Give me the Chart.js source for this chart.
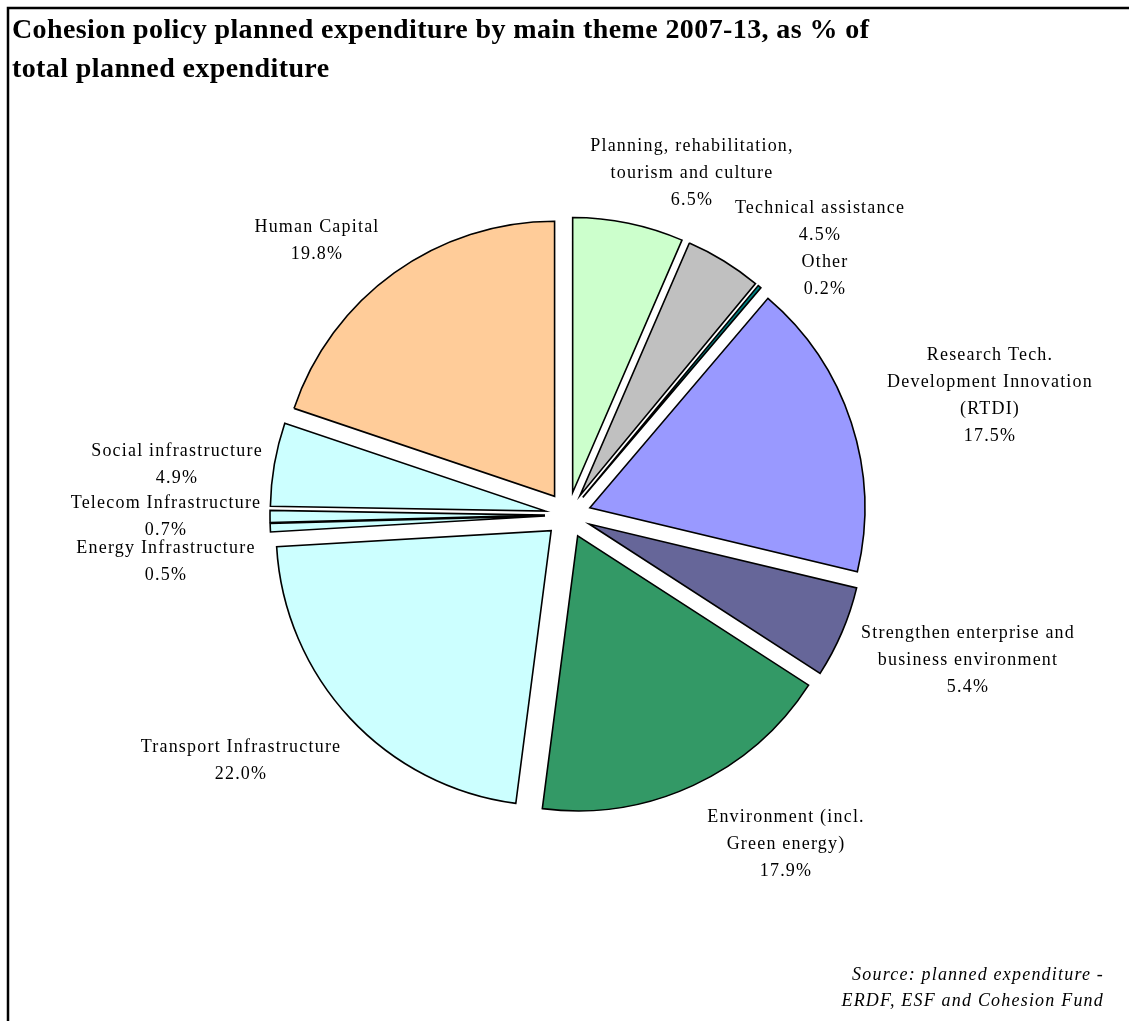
<!DOCTYPE html>
<html>
<head>
<meta charset="utf-8">
<script src="https://cdn.jsdelivr.net/npm/chart.js@4.4.1/dist/chart.umd.min.js"></script>
<style>
  html, body { margin: 0; padding: 0; background: #fff; }
  #wrap { position: relative; width: 1129px; height: 1021px; }
</style>
</head>
<body>
<div id="wrap"><canvas id="c" width="1129" height="1021"></canvas></div>
<script>
// data, clockwise from 12 o'clock
const themes = [
  ['Planning, rehabilitation,', 'tourism and culture'],
  ['Technical assistance'],
  ['Other'],
  ['Research Tech.', 'Development Innovation', '(RTDI)'],
  ['Strengthen enterprise and', 'business environment'],
  ['Environment (incl.', 'Green energy)'],
  ['Transport Infrastructure'],
  ['Energy Infrastructure'],
  ['Telecom Infrastructure'],
  ['Social infrastructure'],
  ['Human Capital']
]
const shares = [6.5, 4.5, 0.2, 17.5, 5.4, 17.9, 22.0, 0.5, 0.7, 4.9, 19.8]

const sliceColors = ['#CCFFCC', '#C0C0C0', '#008080', '#9999FF', '#666699', '#339966',
                     '#CCFFFF', '#CCFFFF', '#CCFFFF', '#CCFFFF', '#FFCC99']

// where each label block is centred (x) and its first line (y)
const labelPos = [
  [692, 146], [820, 208], [825, 262], [990, 355], [968, 633], [786, 817],
  [241, 747], [166, 548], [166, 503], [177, 451], [317, 227]
]
const lineGap = 27
const explode = 23

const frameAndText = {
  id: 'frameAndText',
  beforeDraw(chart) {
    const ctx = chart.ctx
    ctx.save()
    ctx.fillStyle = '#fff'
    ctx.fillRect(0, 0, chart.width, chart.height)
    ctx.strokeStyle = '#000'
    ctx.lineWidth = 2.5
    ctx.strokeRect(8, 8, chart.width + 50, chart.height + 50)
    ctx.restore()
  },
  // pull every slice out along its bisector, the way the spreadsheet does
  beforeDatasetDraw(chart, args) {
    const ctx = chart.ctx
    args.meta.data.forEach(arc => {
      const mid = (arc.startAngle + arc.endAngle) / 2
      ctx.save()
      ctx.translate(Math.cos(mid) * explode, Math.sin(mid) * explode)
      arc.draw(ctx)
      ctx.restore()
    })
    return false
  },
  afterDraw(chart) {
    const ctx = chart.ctx
    ctx.save()
    ctx.fillStyle = '#000'
    ctx.textBaseline = 'middle'
    ctx.textAlign = 'left'
    ctx.letterSpacing = '0.4px'
    ctx.font = 'bold 28px "Liberation Serif", "Times New Roman", serif'
    ctx.fillText('Cohesion policy planned expenditure by main theme 2007-13, as % of', 12, 31)
    ctx.fillText('total planned expenditure', 12, 70)

    ctx.textAlign = 'center'
    ctx.letterSpacing = '1.2px'
    ctx.font = '18px "Liberation Serif", "Times New Roman", serif'
    themes.forEach((lines, i) => {
      const [x, y] = labelPos[i]
      const all = lines.concat([shares[i].toFixed(1) + '%'])
      all.forEach((t, k) => ctx.fillText(t, x, y + k * lineGap))
    })

    ctx.textAlign = 'right'
    ctx.font = 'italic 18px "Liberation Serif", "Times New Roman", serif'
    ctx.fillText('Source: planned expenditure -', 1104, 975)
    ctx.fillText('ERDF, ESF and Cohesion Fund', 1104, 1001)
    ctx.restore()
  }
}

new Chart(document.getElementById('c'), {
  type: 'pie',
  data: {
    labels: themes.map(l => l.join(' ')),
    datasets: [{
      data: shares,
      backgroundColor: sliceColors,
      borderColor: '#000',
      borderWidth: 1.6,
      borderJoinStyle: 'miter',
      offset: 0,
      radius: 275
    }]
  },
  options: {
    responsive: false,
    animation: false,
    layout: { padding: { left: 150, right: 143, top: 150, bottom: 141 } },
    plugins: {
      legend: { display: false },
      title: { display: false },
      tooltip: { enabled: false }
    }
  },
  plugins: [frameAndText]
})
</script>
</body>
</html>
